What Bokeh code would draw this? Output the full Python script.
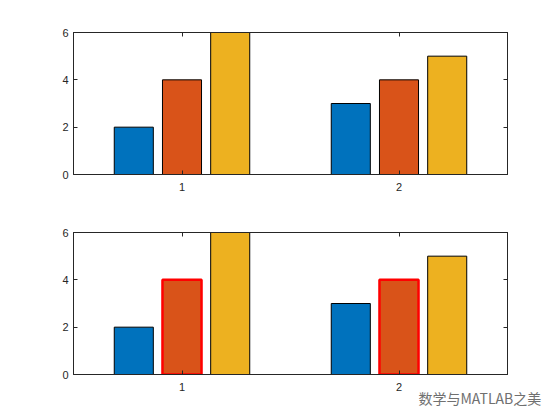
from bokeh.plotting import figure
from bokeh.layouts import column
from bokeh.models import LinearAxis, Range1d, FixedTicker, Title, ColumnDataSource
from bokeh.embed import file_html
from bokeh.resources import INLINE

groups = [1, 2]
series_a = [2, 3]
series_b = [4, 4]
series_c = [6, 5]
x_ticks = [1, 2]
y_ticks = [0, 2, 4, 6]
watermark = "数学与MATLAB之美"
colors = ["#0072BD", "#D95319", "#EDB120"]
offsets = [-0.2222, 0.0, 0.2222]
bar_w = 0.18
AX = "#262626"
FONT = "Liberation Sans"


def style_axes(p):
    p.x_range = Range1d(0.5, 2.5)
    p.y_range = Range1d(0, 6)
    p.xgrid.visible = False
    p.ygrid.visible = False
    p.outline_line_color = AX
    p.outline_line_width = 1
    p.add_layout(LinearAxis(), "right")
    p.add_layout(LinearAxis(), "above")
    for ax in p.axis:
        ax.axis_line_color = AX
        ax.major_tick_line_color = AX
        ax.major_tick_in = 4
        ax.major_tick_out = 0
        ax.minor_tick_line_color = None
        ax.major_label_text_font = FONT
        ax.major_label_text_font_size = "11px"
        ax.major_label_text_color = AX
    for ax in p.xaxis:
        ax.ticker = FixedTicker(ticks=x_ticks)
        ax.major_label_standoff = 8
    for ax in p.yaxis:
        ax.ticker = FixedTicker(ticks=y_ticks)
        ax.major_label_standoff = 5
    p.right[0].major_label_text_font_size = "0px"
    p.above[0].major_label_text_font_size = "0px"
    p.right[0].major_label_text_color = None
    p.above[0].major_label_text_color = None


def draw_bars(p, highlight):
    for i, vals in enumerate([series_a, series_b, series_c]):
        xs = [g + offsets[i] for g in groups]
        src = ColumnDataSource(dict(x=xs, top=vals))
        if highlight and i == 1:
            p.vbar(x="x", top="top", bottom=0, width=bar_w, source=src,
                   fill_color=colors[i], line_color="#FF0000", line_width=2.5)
        else:
            p.vbar(x="x", top="top", bottom=0, width=bar_w, source=src,
                   fill_color=colors[i], line_color="black", line_width=1)


p1 = figure(width=552, height=200, output_backend="svg", toolbar_location=None,
            min_border_left=73, min_border_right=45, min_border_top=32, min_border_bottom=26)
style_axes(p1)
draw_bars(p1, False)

p2 = figure(width=552, height=212, output_backend="svg", toolbar_location=None,
            min_border_left=73, min_border_right=45, min_border_top=32, min_border_bottom=38)
style_axes(p2)
draw_bars(p2, True)

wm = Title(text=watermark, align="left", offset=345, standoff=-16,
           text_font="Noto Sans CJK SC", text_font_size="14px",
           text_font_style="normal", text_color="#707070")
p2.add_layout(wm, "below")

layout = column(p1, p2)
open("out.html", "w").write(file_html(layout, INLINE))
